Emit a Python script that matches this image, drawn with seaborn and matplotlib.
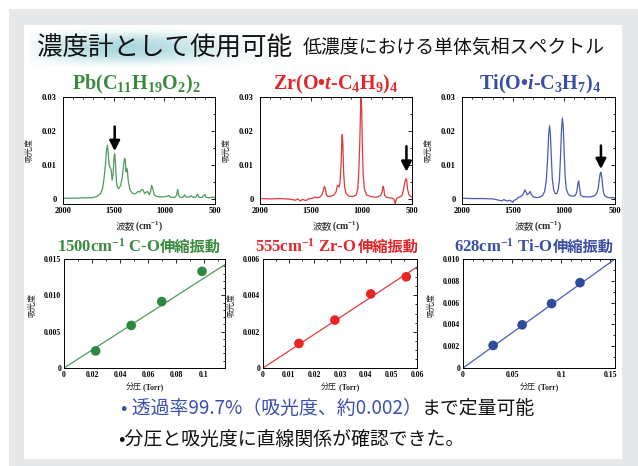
import numpy as np
import matplotlib
matplotlib.use("Agg")
import matplotlib.pyplot as plt
import seaborn as sns
from matplotlib.ticker import FixedLocator, MultipleLocator, FixedFormatter
from matplotlib.patches import Rectangle

# ---------------- spectra (wavenumber / cm-1, absorbance) ----------------
pb_wn = [2000, 1900, 1800, 1700, 1660, 1630, 1610, 1595, 1580, 1570, 1562, 1555,
         1545, 1535, 1525, 1515, 1505, 1497, 1490, 1483, 1475, 1465, 1450, 1430,
         1415, 1400, 1392, 1385, 1378, 1372, 1365, 1355, 1340, 1320, 1300, 1280,
         1260, 1240, 1225, 1210, 1195, 1180, 1165, 1150, 1135, 1125, 1115, 1100,
         1080, 1050, 1000, 970, 955, 940, 900, 880, 868, 860, 845, 820, 800, 790,
         760, 735, 720, 690, 672, 660, 630, 600, 590, 560, 530, 500]
pb_abs = [0.0002, 0.0002, 0.0003, 0.0004, 0.0008, 0.0016, 0.0030, 0.0060, 0.0105,
          0.0145, 0.0158, 0.0140, 0.0100, 0.0092, 0.0085, 0.0055, 0.0075, 0.0120,
          0.0133, 0.0110, 0.0060, 0.0036, 0.0030, 0.0040, 0.0065, 0.0105, 0.0120,
          0.0112, 0.0080, 0.0090, 0.0085, 0.0050, 0.0028, 0.0018, 0.0015, 0.0016,
          0.0022, 0.0020, 0.0028, 0.0026, 0.0016, 0.0020, 0.0022, 0.0012, 0.0022,
          0.0040, 0.0032, 0.0012, 0.0008, 0.0006, 0.0006, 0.0008, 0.0010, 0.0005,
          0.0004, 0.0010, 0.0028, 0.0012, 0.0005, 0.0004, 0.0012, 0.0006, 0.0005,
          0.0009, 0.0005, 0.0005, 0.0014, 0.0005, 0.0004, 0.0013, 0.0005, 0.0003,
          0.0005, 0.0004]

zr_wn = [2000, 1900, 1800, 1700, 1650, 1630, 1600, 1580, 1550, 1520, 1500, 1470,
         1455, 1440, 1410, 1390, 1375, 1365, 1355, 1345, 1330, 1300, 1270, 1250,
         1238, 1230, 1220, 1210, 1200, 1192, 1188, 1182, 1175, 1165, 1150, 1120,
         1080, 1050, 1035, 1025, 1015, 1008, 1002, 996, 990, 982, 970, 950, 900,
         850, 810, 795, 785, 778, 770, 750, 720, 700, 680, 670, 665, 660, 650, 620,
         600, 585, 570, 560, 552, 545, 530, 515, 500]
zr_abs = [0.0001, 0.0000, 0.0001, -0.0001, -0.0004, 0.0000, -0.0006, -0.0001,
          -0.0005, 0.0000, 0.0001, 0.0003, 0.0006, 0.0003, 0.0005, 0.0012, 0.0025,
          0.0037, 0.0030, 0.0012, 0.0007, 0.0008, 0.0012, 0.0020, 0.0038, 0.0040,
          0.0035, 0.0050, 0.0100, 0.0175, 0.0190, 0.0160, 0.0080, 0.0035, 0.0015,
          0.0008, 0.0007, 0.0012, 0.0030, 0.0080, 0.0170, 0.0260, 0.0300, 0.0260,
          0.0160, 0.0070, 0.0030, 0.0012, 0.0006, 0.0005, 0.0010, 0.0020, 0.0037,
          0.0030, 0.0010, 0.0005, 0.0003, 0.0002, 0.0000, -0.0008, -0.0020, -0.0006,
          0.0002, 0.0006, 0.0010, 0.0025, 0.0050, 0.0060, 0.0055, 0.0030, 0.0012,
          0.0008, 0.0005]

ti_wn = [2000, 1900, 1800, 1700, 1650, 1610, 1590, 1560, 1530, 1500, 1490, 1470,
         1450, 1430, 1410, 1395, 1383, 1372, 1360, 1345, 1332, 1322, 1300, 1270,
         1240, 1210, 1190, 1175, 1162, 1150, 1142, 1135, 1125, 1115, 1100, 1085,
         1070, 1055, 1045, 1035, 1025, 1016, 1008, 1000, 990, 978, 960, 940, 910,
         890, 875, 862, 856, 848, 838, 820, 780, 740, 710, 690, 675, 665, 655, 645,
         638, 630, 620, 610, 595, 570, 540, 520, 500]
ti_abs = [0.0002, 0.0001, 0.0001, 0.0000, -0.0003, -0.0006, -0.0002, -0.0006,
          -0.0004, -0.0010, -0.0004, -0.0002, 0.0004, 0.0006, 0.0010, 0.0018, 0.0027,
          0.0020, 0.0012, 0.0016, 0.0022, 0.0014, 0.0006, 0.0004, 0.0005, 0.0010,
          0.0022, 0.0050, 0.0110, 0.0190, 0.0215, 0.0200, 0.0130, 0.0060, 0.0025,
          0.0015, 0.0016, 0.0030, 0.0055, 0.0120, 0.0200, 0.0238, 0.0215, 0.0150,
          0.0070, 0.0030, 0.0015, 0.0009, 0.0008, 0.0010, 0.0020, 0.0048, 0.0053,
          0.0035, 0.0012, 0.0007, 0.0006, 0.0006, 0.0008, 0.0012, 0.0020, 0.0030,
          0.0055, 0.0075, 0.0078, 0.0065, 0.0035, 0.0015, 0.0008, 0.0004, 0.0003,
          0.0004, 0.0002]

# marked bands: (wavenumber, arrow tail, arrow tip)
pb_arrow = (1490, 0.0213, 0.0141)
zr_arrow = (555, 0.0155, 0.0080)
ti_arrow = (638, 0.0157, 0.0088)

# ---------------- calibration (partial pressure / Torr, absorbance) ----------------
pb_p = [0.0226, 0.0480, 0.0698, 0.0986]
pb_a = [0.00235, 0.00586, 0.00914, 0.0133]
pb_slope = 0.1238

zr_p = [0.0140, 0.0280, 0.0420, 0.0558]
zr_a = [0.00135, 0.00264, 0.00408, 0.00502]
zr_slope = 0.0927

ti_p = [0.0307, 0.0603, 0.0903, 0.1193]
ti_a = [0.00207, 0.00396, 0.00591, 0.00783]
ti_slope = 0.0645

# ---------------- tick labels ----------------
spec_xticks = [2000, 1500, 1000, 500]
spec_xlabels = ["2000", "1500", "1000", "500"]
spec_yticks = [0, 0.01, 0.02, 0.03]
spec_ylabels = ["0", "0.01", "0.02", "0.03"]

pb_xticks = [0, 0.02, 0.04, 0.06, 0.08, 0.1]
pb_xlabels = ["0", "0.02", "0.04", "0.06", "0.08", "0.1"]
pb_yticks = [0, 0.005, 0.010, 0.015]
pb_ylabels = ["0", "0.005", "0.010", "0.015"]

zr_xticks = [0, 0.01, 0.02, 0.03, 0.04, 0.05, 0.06]
zr_xlabels = ["0", "0.01", "0.02", "0.03", "0.04", "0.05", "0.06"]
zr_yticks = [0, 0.002, 0.004, 0.006]
zr_ylabels = ["0", "0.002", "0.004", "0.006"]

ti_xticks = [0, 0.05, 0.1, 0.15]
ti_xlabels = ["0", "0.05", "0.1", "0.15"]
ti_yticks = [0, 0.002, 0.004, 0.006, 0.008, 0.010]
ti_ylabels = ["0", "0.002", "0.004", "0.006", "0.008", "0.010"]

GREEN_T, GREEN_L, GREEN_P = "#3a8a3e", "#4f9a5e", "#2e8a40"
RED_T, RED_L, RED_P = "#e3262b", "#e03a3c", "#e82424"
BLUE_T, BLUE_L, BLUE_P = "#3a4ea6", "#4a5cb6", "#2f4b9e"
CJK = ["Noto Sans CJK JP", "DejaVu Sans"]
SERIF = ["Liberation Serif", "DejaVu Serif"]

sns.set_style("white")
plt.rcParams.update({
    "font.family": SERIF,
    "mathtext.fontset": "custom",
    "mathtext.rm": "Liberation Serif:bold",
    "mathtext.it": "Liberation Serif:italic:bold",
    "mathtext.bf": "Liberation Serif:bold",
    "mathtext.default": "rm",
    "axes.edgecolor": "black",
    "axes.linewidth": 0.7,
})

W, H = 638, 466
fig = plt.figure(figsize=(W / 100, H / 100), dpi=100)
fig.patch.set_facecolor("white")

# page backdrop in pixel coordinates
bg = fig.add_axes([0, 0, 1, 1], zorder=-10)
bg.set_xlim(0, W)
bg.set_ylim(H, 0)
bg.axis("off")
bg.add_patch(Rectangle((9, 9), W - 9, H - 9, color="#e6e7e9", lw=0, zorder=0.5))
bg.add_patch(Rectangle((24, 25), 598, 434, color="white", lw=0, zorder=0.6))

# soft teal glow behind the headline, tapered to nothing at its borders
gx = np.linspace(0, 1, 300)
gy = np.linspace(0, 1, 48)
GX, GY = np.meshgrid(gx, gy)
glow = (np.exp(-((GX - 0.30) / 0.40) ** 2)
        * np.sin(np.pi * GY) ** 1.2
        * np.sin(np.pi * GX) ** 0.5)
rgba = np.zeros((48, 300, 4))
rgba[..., 0], rgba[..., 1], rgba[..., 2] = 0.50, 0.77, 0.80
rgba[..., 3] = 0.70 * glow
bg.imshow(rgba, extent=(28, 300, 68, 28), aspect="auto", interpolation="bilinear", zorder=1)
bg.set_xlim(0, W)
bg.set_ylim(H, 0)

renderer = fig.canvas.get_renderer()


def text_run(x, y, pieces, ha="left", **common):
    """Lay text pieces side by side on one baseline (pixel coordinates)."""
    arts = []
    for s, kw in pieces:
        opts = dict(common)
        opts.update(kw)
        arts.append(bg.text(0, y, s, va="baseline", ha="left", zorder=3, **opts))
    widths = [a.get_window_extent(renderer).width for a in arts]
    cur = x - sum(widths) / 2 if ha == "center" else x
    for a, w in zip(arts, widths):
        a.set_x(cur)
        cur += w
    return arts


def px_axes(left, top, right, bottom):
    return fig.add_axes([left / W, 1 - bottom / H, (right - left) / W, (bottom - top) / H])


def style_axes(ax, xt, xl, yt, yl, xminor, yminor, fs, ypad):
    ax.set_facecolor("white")
    ax.xaxis.set_major_locator(FixedLocator(xt))
    ax.xaxis.set_major_formatter(FixedFormatter(xl))
    ax.yaxis.set_major_locator(FixedLocator(yt))
    ax.yaxis.set_major_formatter(FixedFormatter(yl))
    ax.xaxis.set_minor_locator(MultipleLocator(xminor))
    ax.yaxis.set_minor_locator(MultipleLocator(yminor))
    ax.tick_params(which="both", direction="in", top=True, right=True, width=0.6, colors="black")
    ax.tick_params(which="major", length=3)
    ax.tick_params(which="minor", length=1.6)
    ax.tick_params(axis="x", labelsize=fs, pad=2)
    ax.tick_params(axis="y", labelsize=fs, pad=ypad)
    for lab in ax.get_xticklabels() + ax.get_yticklabels():
        lab.set_fontweight("bold")
        lab.set_fontfamily(SERIF)
    for sp in ax.spines.values():
        sp.set_visible(True)
        sp.set_color("black")
        sp.set_linewidth(0.7)
    ax.set_xlabel("")
    ax.set_ylabel("")


# ---------------- spectra row ----------------
spectra = [
    (pb_wn, pb_abs, GREEN_L, pb_arrow, (63, 97, 215, 204)),
    (zr_wn, zr_abs, RED_L, zr_arrow, (260, 97, 412, 204)),
    (ti_wn, ti_abs, BLUE_L, ti_arrow, (462, 97, 615, 204)),
]
for wn, ab, col, arr, box in spectra:
    ax = px_axes(*box)
    sns.lineplot(x=wn, y=ab, ax=ax, color=col, linewidth=0.9, estimator=None)
    ax.set_xlim(2000, 500)
    ax.set_ylim(-0.0015, 0.030)
    style_axes(ax, spec_xticks, spec_xlabels, spec_yticks, spec_ylabels, 100, 0.005, 6, 4.5)
    ax.annotate("", xy=(arr[0], arr[2]), xytext=(arr[0], arr[1]),
                arrowprops=dict(arrowstyle="-|>,head_length=0.55,head_width=0.28",
                                color="black", lw=1.8, shrinkA=0, shrinkB=0,
                                mutation_scale=11))
    cx = (box[0] + box[2]) / 2
    text_run(cx, 229, [("波数", dict(family=CJK, fontsize=7)),
                       ("(cm$^{-1}$)", dict(fontsize=7, fontweight="bold"))], ha="center")
    bg.text(box[0] - 34, (box[1] + box[3]) / 2, "吸光度", family=CJK, fontsize=5.8,
            rotation=90, ha="center", va="center", zorder=3)

# ---------------- calibration row ----------------
calib = [
    (pb_p, pb_a, pb_slope, GREEN_L, GREEN_P, (64, 259, 225, 368), 0.115, 0.015,
     pb_xticks, pb_xlabels, pb_yticks, pb_ylabels, 0.01, 0.001),
    (zr_p, zr_a, zr_slope, RED_L, RED_P, (263, 259, 417, 368), 0.06, 0.006,
     zr_xticks, zr_xlabels, zr_yticks, zr_ylabels, 0.005, 0.0005),
    (ti_p, ti_a, ti_slope, BLUE_L, BLUE_P, (463, 259, 615, 368), 0.155, 0.010,
     ti_xticks, ti_xlabels, ti_yticks, ti_ylabels, 0.01, 0.001),
]
for p, a, slope, lcol, pcol, box, xmax, ymax, xt, xl, yt, yl, xmi, ymi in calib:
    ax = px_axes(*box)
    sns.lineplot(x=[0, xmax], y=[0, slope * xmax], ax=ax, color=lcol, linewidth=0.9)
    sns.scatterplot(x=p, y=a, ax=ax, color=pcol, s=48, edgecolor="none", zorder=3)
    ax.set_xlim(0, xmax)
    ax.set_ylim(0, ymax)
    style_axes(ax, xt, xl, yt, yl, xmi, ymi, 5.6, 2)
    cx = (box[0] + box[2]) / 2
    text_run(cx, 389, [("分圧", dict(family=CJK, fontsize=5.8)),
                       (" (Torr)", dict(fontsize=5.6, fontweight="bold"))], ha="center")
    bg.text(box[0] - 32, 305, "吸光度", family=CJK, fontsize=5.8,
            rotation=90, ha="center", va="center", zorder=3)

# ---------------- headings ----------------
text_run(37, 56, [("濃度計として使用可能", dict(family=CJK, fontsize=18.4, color="#111111"))])
text_run(303, 53, [("低濃度における単体気相スペクトル", dict(family=CJK, fontsize=13.6, color="#111111"))])

bg.text(136, 89, "Pb(C$_{11}$H$_{19}$O$_2$)$_2$", fontsize=14.5, fontweight="bold",
        color=GREEN_T, ha="center", va="baseline", zorder=3)
bg.text(336, 89, "Zr(O•$\\mathit{t}$-C$_4$H$_9$)$_4$", fontsize=14.5, fontweight="bold",
        color=RED_T, ha="center", va="baseline", zorder=3)
bg.text(540, 89, "Ti(O•$\\mathit{i}$-C$_3$H$_7$)$_4$", fontsize=14.5, fontweight="bold",
        color=BLUE_T, ha="center", va="baseline", zorder=3)

text_run(139, 252, [("1500cm$^{-1}$ C-O", dict(fontsize=12, fontweight="bold")),
                    ("伸縮振動", dict(family=CJK, fontsize=11, fontweight="bold"))],
         ha="center", color=GREEN_T)
text_run(337, 252, [("555cm$^{-1}$ Zr-O ", dict(fontsize=12, fontweight="bold")),
                    ("伸縮振動", dict(family=CJK, fontsize=11, fontweight="bold"))],
         ha="center", color=RED_T)
text_run(534, 252, [("628cm$^{-1}$ Ti-O ", dict(fontsize=12, fontweight="bold")),
                    ("伸縮振動", dict(family=CJK, fontsize=11, fontweight="bold"))],
         ha="center", color=BLUE_T)

# ---------------- notes ----------------
text_run(121, 414, [("• 透過率99.7%（吸光度、約0.002）", dict(color="#3b4fae")),
                    ("まで定量可能", dict(color="#111111"))],
         family=CJK, fontsize=13.6)
text_run(118, 446, [("•分圧と吸光度に直線関係が確認できた。", dict(color="#111111"))],
         family=CJK, fontsize=13.6)

fig.savefig("out.png", dpi=100)
